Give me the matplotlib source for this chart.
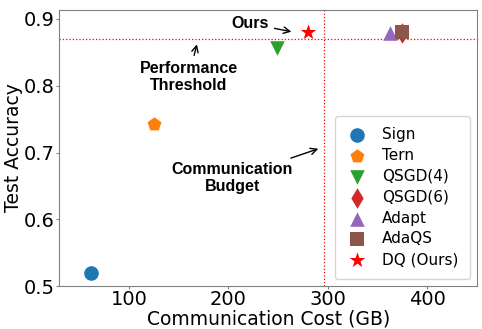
import matplotlib.pyplot as plt

# communication cost (GB) and test accuracy for each method
names = ['Sign', 'Tern', 'QSGD(4)', 'QSGD(6)', 'Adapt', 'AdaQS', 'DQ (Ours)']
cost = [62, 125, 249, 374, 362, 374, 280]
acc = [0.520, 0.742, 0.857, 0.879, 0.879, 0.881, 0.880]
markers = ['o', 'p', 'v', 'd', '^', 's', '*']
colors = ['#1f77b4', '#ff7f0e', '#2ca02c', '#d62728', '#9467bd', '#8c564b', 'red']

threshold = 0.870
budget = 296

fig, ax = plt.subplots(figsize=(4.82, 3.29), dpi=100)

for n, c, a, m, col in zip(names, cost, acc, markers, colors):
    s = 140 if m == '*' else 110
    ax.scatter(c, a, marker=m, color=col, s=s, label=n, zorder=3, linewidths=0)

ax.axhline(threshold, color='red', ls=':', lw=0.9)
ax.axvline(budget, color='red', ls=':', lw=0.9)

bold = dict(fontsize=11.5, fontweight='bold', family='Liberation Sans', ha='center', va='center')
ax.annotate('Ours', xy=(266, 0.880), xytext=(222, 0.893),
            arrowprops=dict(arrowstyle='->', color='black', lw=1), **bold)
ax.annotate('Performance\nThreshold', xy=(169, 0.866), xytext=(160, 0.813),
            arrowprops=dict(arrowstyle='->', color='black', lw=1), **bold)
ax.annotate('Communication\nBudget', xy=(293, 0.707), xytext=(204, 0.662),
            arrowprops=dict(arrowstyle='->', color='black', lw=1), **bold)

ax.set_xlim(30, 450)
ax.set_ylim(0.5, 0.9135)
ax.set_xticks([100, 200, 300, 400])
ax.set_yticks([0.5, 0.6, 0.7, 0.8, 0.9])
ax.tick_params(labelsize=14, pad=1, length=2, color='gray')
ax.set_xlabel('Communication Cost (GB)', fontsize=13.5, labelpad=0)
ax.set_ylabel('Test Accuracy', fontsize=13.5, labelpad=1)
for sp in ax.spines.values():
    sp.set_color('gray')

ax.legend(loc='lower right', fontsize=11, borderpad=0.75, labelspacing=0.38,
          handlelength=1.4, handletextpad=0.9, scatterpoints=1)

plt.subplots_adjust(left=0.123, right=0.99, top=0.97, bottom=0.13)
plt.savefig('out.png')
